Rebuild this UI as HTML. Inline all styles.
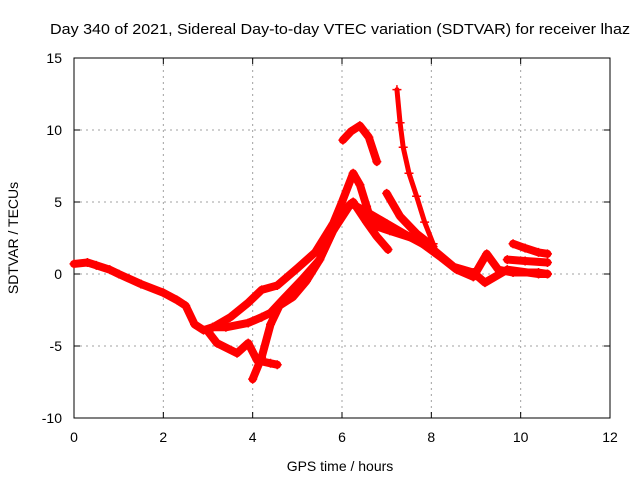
<!DOCTYPE html>
<html><head><meta charset="utf-8"><style>
body{margin:0;background:#fff;}
svg{display:block;font-family:"Liberation Sans",sans-serif;}
</style></head><body>
<svg id="chart" width="640" height="480">
<rect width="640" height="480" fill="#fff"/>
<g id="grid"></g>
<g id="axes"></g>
<g id="series"></g>
<text x="50" y="34" textLength="580" lengthAdjust="spacingAndGlyphs" font-size="15">Day 340 of 2021, Sidereal Day-to-day VTEC variation (SDTVAR) for receiver lhaz</text>
<text x="340" y="471" text-anchor="middle" font-size="14">GPS time / hours</text>
<text transform="translate(18,238) rotate(-90)" text-anchor="middle" font-size="14">SDTVAR / TECUs</text>
</svg>
<script>
const xTicks=[0,2,4,6,8,10,12];
const yTicks=[-10,-5,0,5,10,15];
// series: hours and TECU values
const sAh=[0,0.3,0.5,0.8,1,1.5,2,2.3,2.5,2.7,2.9,3.1,3.4,3.9,4.2,4.4,4.7,5.1,5.5,5.8,6.2,6.5,7.0,7.5,8.04,8.5,8.94,9.2,9.7,10.4,10.6];
const sAv=[0.7,0.8,0.6,0.3,0,-0.7,-1.3,-1.8,-2.2,-3.5,-3.9,-3.7,-3.7,-3.4,-3.0,-2.7,-1.7,-0.4,1.0,3.0,4.9,4.4,3.5,2.6,1.7,0.5,0.1,-0.6,0.3,0.0,0.0];
const sBh=[3.11,3.5,3.9,4.2,4.55,5.0,5.4,5.8,6.0,6.25,6.4,6.55,6.62,6.78,7.07,7.67,8.2,8.57,8.94,9.24,9.5,9.83,10.4,10.6];
const sBv=[-3.7,-3.0,-2.0,-1.1,-0.8,0.4,1.5,3.5,5.0,7.0,6.2,4.7,4.0,3.3,3.0,2.4,1.2,0.3,-0.2,1.4,0.3,0.1,0.1,0.0];
const sCh=[3.0,3.2,3.65,3.9,4.1,4.4,4.55];
const sCv=[-4.0,-4.8,-5.5,-4.8,-6.0,-6.2,-6.3];
const sDh=[4.0,4.2,4.4,4.6,4.9,5.2,5.5,5.8,6.0,6.25,6.55,6.78,7.03];
const sDv=[-7.3,-5.8,-3.5,-2.2,-1.6,-0.5,1.0,3.0,4.3,5.0,3.6,2.6,1.7];
const sEh=[6.02,6.2,6.4,6.6,6.78];
const sEv=[9.3,9.9,10.3,9.5,7.8];
const sFh=[7.23,7.3,7.37,7.5,7.67,7.85,8.04];
const sFv=[12.8,10.5,8.8,7.0,5.4,3.6,2.1];
const sGh=[7.0,7.3,7.67,8.04];
const sGv=[5.6,4.0,2.8,1.9];
const sHh=[9.83,10.1,10.4,10.6];
const sHv=[2.1,1.8,1.5,1.4];
const sIh=[9.7,10.1,10.6];
const sIv=[1.0,0.9,0.8];
const L=74,R=610,T=58,B=418;
function xs(h){return L+(h-0)/12*(R-L);}
function ys(v){return B-(v+10)/25*(B-T);}
const NS="http://www.w3.org/2000/svg";
function mk(tag,attrs,parent){const e=document.createElementNS(NS,tag);for(const k in attrs)e.setAttribute(k,attrs[k]);parent.appendChild(e);return e;}
const grid=document.getElementById('grid'),axes=document.getElementById('axes'),ser=document.getElementById('series');
xTicks.forEach(t=>{const x=xs(t);
 if(t>0&&t<12){const g=mk('line',{x1:x,x2:x,y1:T,y2:B,stroke:'#a0a0a0','stroke-dasharray':'2,4'},grid);}
 mk('line',{x1:x,x2:x,y1:B,y2:B-6,stroke:'#000'},axes);mk('line',{x1:x,x2:x,y1:T,y2:T+6,stroke:'#000'},axes);
 const tx=mk('text',{x:x,y:B+24,'text-anchor':'middle','font-size':14},axes);tx.textContent=t;
 });
yTicks.forEach(t=>{const y=ys(t);
 if(t>-10&&t<15){const g=mk('line',{x1:L,x2:R,y1:y,y2:y,stroke:'#a0a0a0','stroke-dasharray':'2,4'},grid);}
 mk('line',{x1:L,x2:L+6,y1:y,y2:y,stroke:'#000'},axes);mk('line',{x1:R,x2:R-6,y1:y,y2:y,stroke:'#000'},axes);
 const tx=mk('text',{x:L-12,y:y+5,'text-anchor':'end','font-size':14},axes);tx.textContent=t;
 });
const fr=mk('rect',{x:L,y:T,width:R-L,height:B-T,fill:'none',stroke:'#000'},axes);

const all=[[sAh,sAv,8],[sBh,sBv,8],[sCh,sCv,8],[sDh,sDv,8],[sEh,sEv,8],[sFh,sFv,5],[sGh,sGv,8],[sHh,sHv,8],[sIh,sIv,8]];
all.forEach((s,i)=>{const [hs,vs,w]=s;
 const pts=hs.map((h,j)=>xs(h)+','+ys(vs[j])).join(' ');
 const pl=mk('polyline',{points:pts,fill:'none',stroke:'#ff0000','stroke-width':w,'stroke-linejoin':'round','stroke-linecap':'round'},ser);
 
 
 hs.forEach((h,j)=>{const x=xs(h),y=ys(vs[j]);
  const p=mk('path',{d:`M${x-4.5},${y}H${x+4.5}M${x},${y-4.5}V${y+4.5}`,stroke:'#ff0000','stroke-width':1.5},ser);
  
  });
});
</script>
</body></html>
